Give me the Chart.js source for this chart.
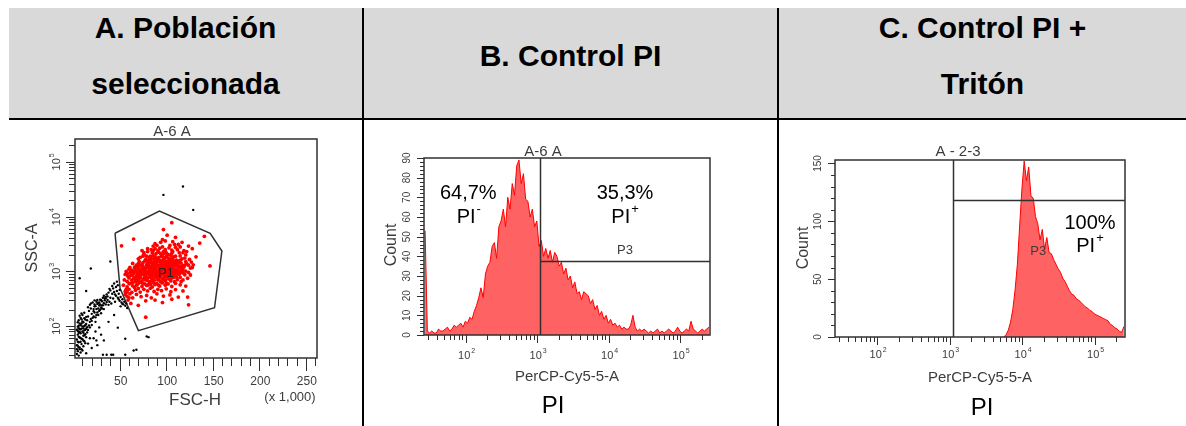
<!DOCTYPE html>
<html>
<head>
<meta charset="utf-8">
<script src="https://cdn.jsdelivr.net/npm/chart.js@4.4.1/dist/chart.umd.min.js"></script>
<style>
  body { margin: 0; width: 1186px; height: 426px; background: #fff; position: relative; overflow: hidden;
         font-family: "Liberation Sans", Arial, Helvetica, sans-serif; }
  .hdr { position: absolute; left: 9px; top: 8px; width: 1177px; height: 110px; background: #d9d9d9; }
  .hline { position: absolute; left: 9px; top: 118px; width: 1177px; height: 2px; background: #000; z-index: 3; }
  .vline { position: absolute; top: 8px; width: 2px; height: 418px; background: #000; z-index: 3; }
  .htxt { position: absolute; text-align: center; font-weight: bold; font-size: 30px; line-height: 56px; color: #000; }
  .cell { position: absolute; top: 120px; height: 306px; }
  .pi { position: absolute; font-size: 24px; line-height: 24px; color: #000; text-align: center; width: 100px; }
</style>
</head>
<body>
<div class="hdr"></div>
<div class="htxt" style="left:9px;width:353px;top:0">A. Población<br>seleccionada</div>
<div class="htxt" style="left:364px;width:413px;top:28px">B. Control PI</div>
<div class="htxt" style="left:779px;width:407px;top:0">C. Control PI +<br>Tritón</div>
<div class="hline"></div>
<div class="vline" style="left:362px"></div>
<div class="vline" style="left:777px"></div>

<div class="cell" style="left:0;width:362px"><canvas id="chartA" width="362" height="306"></canvas></div>
<div class="cell" style="left:364px;width:413px"><canvas id="chartB" width="413" height="306"></canvas></div>
<div class="cell" style="left:779px;width:407px"><canvas id="chartC" width="407" height="306"></canvas></div>

<div class="pi" style="left:503px;top:393px">PI</div>
<div class="pi" style="left:932px;top:395px">PI</div>

<script>
// ---- data ----
// panel A: FSC-H (x 1,000) vs SSC-A, events outside the gate (black) and inside P1 (red)
const blackEvents = [
  [4,31],[5,44],[6,29],[4,57],[7,38],[5,70],[8,33],[6,51],[9,47],[4,86],[7,62],[10,36],[5,98],[8,74],
  [11,55],[6,41],[9,90],[12,68],[7,112],[10,80],[13,49],[5,35],[8,104],[11,92],[14,63],[6,128],[9,59],
  [12,101],[15,77],[7,88],[10,122],[13,86],[4,45],[8,142],[11,67],[14,110],[6,76],[9,134],[12,53],
  [15,96],[5,118],[10,99],[13,132],[7,155],[11,118],[16,85],[8,61],[14,148],[9,170],[12,140],[6,102],
  [17,103],[10,160],[13,71],[15,128],[7,41],[16,150],[11,43],[18,120],[12,176],[5,52],[6,64],[4,38],
  [8,52],[9,38],[7,78],[5,82],[10,58],[6,92],[8,88],[11,76],[9,112],[13,104],[12,84],[14,90],
  [17,190],[19,135],[16,222],[20,168],[18,245],[21,142],[22,205],[19,260],[23,178],[20,125],[24,232],
  [21,270],[25,160],[22,188],[26,255],[23,296],[24,145],[27,210],[25,280],[28,238],[26,178],[29,305],
  [27,265],[30,220],[28,190],[31,285],[29,248],[32,330],[30,172],[33,262],[31,210],[34,298],[32,240],
  [35,340],[33,205],[36,275],[34,320],[19,210],[22,150],[25,205],[28,270],[31,240],[24,120],[27,160],
  [30,300],[33,360],[20,105],[23,230],[26,300],[29,200],[35,250],[37,300],[36,380],[38,245],[18,95],
  [37,350],[39,280],[38,410],[40,330],[41,260],[42,390],[40,450],[43,320],[44,420],[45,280],[46,360],
  [43,490],[47,440],[48,330],[46,520],[49,390],[50,290],[48,560],[51,340],[52,270],[53,310],[50,460],
  [54,250],[55,280],[56,235],[57,260],[58,215],[44,600],[47,650],[42,540],[39,480],[45,380],[51,230],
  [53,255],[49,310],
  [22,60],[26,45],[30,70],[24,80],[33,55],[28,95],[36,30],[43,30],[56,30],[68,37],[81,63],[56,59],
  [65,36],[79,65],[32,30],[41,30],[48,94],[35,325],[23,250],[14,440],[7,750],[19,1130],[40,1520],
  [97,25000],[118,35600],[129,13300],[18,60],[20,40],[25,55],[38,120],[44,160],[16,48],[14,32]
];
const redEvents = [
  [62,260],[70,240],[78,290],[88,300],[96,270],[106,310],[124,245],
  [58,350],[64,330],[68,380],[73,345],[79,365],[84,330],[90,390],[97,355],[104,372],[113,340],
  [56,430],[60,470],[63,415],[67,455],[70,490],[72,420],[76,470],[80,440],[83,495],[87,430],[91,470],
  [95,445],[100,480],[105,425],[110,465],[118,440],
  [54,560],[58,520],[61,600],[64,545],[66,510],[69,580],[71,620],[74,530],[77,590],[79,555],[82,610],
  [85,520],[88,575],[90,600],[93,540],[96,615],[99,560],[102,590],[106,530],[110,605],[115,570],[121,540],
  [55,700],[58,660],[60,760],[63,690],[65,740],[67,650],[70,720],[72,790],[74,670],[76,750],[78,700],
  [81,780],[83,660],[85,730],[87,690],[89,770],[92,710],[94,650],[97,760],[99,690],[102,740],[105,670],
  [108,780],[112,710],[116,650],[123,750],
  [56,880],[59,820],[61,950],[64,860],[66,990],[68,830],[70,920],[72,870],[75,970],[77,810],[79,900],
  [81,960],[83,850],[85,930],[87,990],[89,880],[91,820],[93,950],[95,900],[98,840],[100,980],[102,870],
  [105,930],[108,820],[111,960],[114,890],[118,940],[126,860],
  [60,1100],[63,1050],[66,1200],[68,1010],[70,1150],[73,1080],[75,1230],[77,1040],[80,1170],[82,1110],
  [84,1250],[86,1020],[88,1140],[90,1210],[92,1060],[95,1180],[97,1100],[99,1240],[102,1030],[104,1160],
  [107,1220],[110,1070],[113,1190],[117,1120],[121,1010],[128,1180],
  [64,1400],[68,1300],[71,1500],[74,1350],[77,1550],[79,1280],[82,1450],[85,1380],[87,1560],[90,1320],
  [93,1480],[95,1410],[98,1290],[100,1530],[103,1370],[106,1470],[109,1330],[112,1560],[116,1420],
  [120,1300],[127,1480],
  [70,1700],[75,1900],[78,1650],[82,1800],[86,1950],[89,1720],[92,1620],[95,1880],[98,1760],[101,1980],
  [104,1680],[108,1840],[111,1600],[115,1920],[120,1750],[132,1850],
  [76,2200],[84,2500],[89,2100],[93,2650],[97,2300],[102,2050],[106,2450],[110,2750],[114,2200],
  [119,2400],[128,2600],
  [88,3200],[96,3800],[104,3000],[110,4200],[117,3400],[124,2900],[101,4600],
  [97,5800],[106,7770],[141,4370],[147,1260],[123,340],[78,146],[52,2930],[65,3900],[136,3300],
  [66,760],[69,900],[71,1020],[73,640],[74,880],[76,1100],[78,820],[79,1330],[80,680],[81,1010],
  [82,890],[83,1200],[84,760],[85,1060],[86,640],[86,1400],[87,920],[88,1250],[89,800],[90,1060],
  [90,1500],[91,700],[92,940],[93,1160],[94,840],[94,1340],[95,1020],[96,730],[97,1200],[98,930],
  [99,1420],[100,800],[101,1090],[102,1300],[103,960],[104,720],[105,1180],[106,1020],[107,860],
  [108,1380],[109,1000],[110,1250],[111,790],[112,1080],[113,1450],[114,960],[116,1230],[118,1060],
  [120,870],[122,1380],[68,560],[70,680],[72,760],[75,600],[77,720],[80,560],[83,580],[85,840],
  [87,610],[89,940],[92,560],[95,640],[98,700],[100,620],[103,840],[106,760],[109,650],[112,900],
  [115,780],[118,700],[64,620],[62,840],[65,930],[67,1080],[69,1240],[72,1300],[75,1440],[78,1160],
  [81,1600],[84,1480],[87,1750],[91,1650],[94,1580],[97,1680],[100,1850],[103,1620],[106,1700],
  [109,1500],[112,1350],[115,1600],[118,1280],[121,1500],[124,1300],[124,960],[126,1150],[129,1320],
  [60,600],[58,900],[57,1000],[61,1180],[56,380],[58,420],[60,330],[57,470],[61,390],[59,300],
  [67,720],[71,830],[73,990],[76,880],[79,760],[82,980],[84,1120],[86,820],[88,1020],[91,900],
  [93,780],[96,1120],[99,1010],[101,880],[104,1050],[107,950],[110,880],[113,1020],[116,980],[78,1000],
  [81,1300],[84,940],[87,1150],[90,960],[93,1300],[96,1480],[99,1150],[102,1170],[105,1320],[108,1100],
  [70,1380],[74,1200],[77,900],[80,1450],[83,1650],[86,1250],[89,1400],[92,1800],[95,1300],[98,1580],
  [101,1400],[104,1500],[107,1650],[110,1400],[113,1280],[116,1100],[119,1200],[63,980],[66,1150],[69,800],
  [72,1800],[76,2050],[80,2300],[83,1900],[85,2200],[88,2600],[91,2400],[94,2100],[96,2800],[99,2500],
  [100,2200],[103,2700],[105,1950],[107,2300],[109,3100],[112,2500],[115,2800],[118,2200],[121,2000],
  [90,3000],[94,3400],[99,3600],[107,3500],[113,3100],[80,2600],[86,2900],[74,2400],[102,1750],[96,1950],
  [84,1700],[79,1900],[117,1700],[122,2300],[125,1650],[92,2250],[88,1850],[106,2150],[110,1900],
  [98,2150],[86,2400]
];
// P1 gate vertices (FSC-H x1000, SSC-A)
const gateP1 = [[45,4970],[92.7,12700],[147.2,4970],[159.8,2360],[151.9,217],[70.1,83],[50.4,492],[45,4970]];

// panels B and C: PerCP-Cy5-5-A histograms, 128 log bins over 26.2144 .. 262144
const logRange = [26.2144, 262144];
const countsB = [
  53, 2,1,2,1,1,3,2,2,3,4,2,3,5,4, 5,6,4,7, 6,9,8,12,15,19, 24,19,31,35, 37,45,47,39,55,58,
  64,55,70,64,77,71,86,89, 77,82,69,68,60,64,55,58, 45,48,40,44,39,43,37,42, 40,35,37,31,34,28,30,24,
  27,21,22,18,22,21,20,16, 18,13,15,10,12,8,10,6, 8,5,6,4,5,3,4,3, 3,5,10,4,2,3,2,3,
  2,1,2,1,2,3,1,2,1,2,3,2,1,2,4,2,1,2,3,2,7,3,2,1,2,3,2,3,4
];
const firstBinC = 74;   // bins before this one are empty
const countsC = [
  0,2,6,13,24,41,63,96,128,152,135,147,122,120,104,98,84,93,76,86,73,72,67,63,59,56,51,48,44,40,
  37,36,33,32,30,28,26,25,23,22,20,19,18,17,16,15,14,11,10,8,7,5,4,9
];
const binTotal = 128;

// gates
const gateB = { x: 1099, y: 37.7 };
const gateC = { x: 1120, y: 118.5 };

// tick labels
const fscLabels = [50, 100, 150, 200, 250];
const decades = [10, 100, 1000, 10000, 100000];
const decadeLabels = { 100: '10^2', 1000: '10^3', 10000: '10^4', 100000: '10^5' };
const countLabelsB = [0, 10, 20, 30, 40, 50, 60, 70, 80, 90];
const countLabelsC = [0, 50, 100, 150];

// ---- drawing helpers ----
const FONT = '"Liberation Sans", Arial, Helvetica, sans-serif';
const INK = '#3c3c3c';
const LINE = '#303030';

function drawLabel(ctx, txt, x, y, size, rot, color) {
  const [base, exp] = String(txt).split('^');
  const es = Math.round(size * 0.66);
  ctx.save();
  ctx.translate(x, y);
  if (rot) ctx.rotate(-Math.PI / 2);
  ctx.fillStyle = color || INK;
  ctx.textBaseline = 'middle';
  ctx.textAlign = 'left';
  ctx.font = size + 'px ' + FONT;
  const wb = ctx.measureText(base).width;
  ctx.font = es + 'px ' + FONT;
  const we = exp ? ctx.measureText(exp).width + 1 : 0;
  const x0 = -(wb + we) / 2;
  ctx.font = size + 'px ' + FONT;
  ctx.fillText(base, x0, 0);
  if (exp) {
    ctx.font = es + 'px ' + FONT;
    ctx.fillText(exp, x0 + wb + 1, -size * 0.42);
  }
  ctx.restore();
}

function logTicks(majorLen, minorLen) {
  const out = [];
  decades.forEach(d => {
    for (let k = 1; k <= 9; k++) {
      const v = d * k;
      if (v < logRange[0] || v > logRange[1]) continue;
      const label = k === 1 ? decadeLabels[d] : null;
      out.push({ v, len: label ? majorLen : minorLen, label });
    }
  });
  return out;
}

function linTicks(from, to, step, labels, majorLen, minorLen) {
  const out = [];
  for (let v = from; v <= to; v += step) {
    const lab = labels.includes(v);
    out.push({ v, len: lab ? majorLen : minorLen, label: lab ? String(v) : null });
  }
  return out;
}

function histPoints(counts, offset) {
  const lo = Math.log10(logRange[0]), hi = Math.log10(logRange[1]);
  const w = (hi - lo) / binTotal;
  return counts.map((c, i) => ({ x: Math.pow(10, lo + (offset + i + 0.5) * w), y: c }));
}

const facsPlot = {
  id: 'facsPlot',
  afterDatasetsDraw(chart, args, o) {
    const { ctx, chartArea: a, scales } = chart;
    const sx = scales.x, sy = scales.y;
    ctx.save();
    ctx.strokeStyle = LINE;
    if (o.gate) {
      const gx = Math.round(sx.getPixelForValue(o.gate.x)) + 0.5;
      const gy = Math.round(sy.getPixelForValue(o.gate.y)) + 0.5;
      ctx.lineWidth = 1.5;
      ctx.beginPath();
      ctx.moveTo(gx, a.top); ctx.lineTo(gx, a.bottom);
      ctx.moveTo(gx, gy); ctx.lineTo(a.right, gy);
      ctx.stroke();
    }
    ctx.lineWidth = 1.5;
    ctx.strokeRect(a.left, a.top, a.right - a.left, a.bottom - a.top);
    ctx.lineWidth = 1;
    ctx.beginPath();
    o.xTicks.forEach(t => {
      const p = Math.round(sx.getPixelForValue(t.v)) + 0.5;
      ctx.moveTo(p, a.bottom); ctx.lineTo(p, a.bottom + t.len);
    });
    o.yTicks.forEach(t => {
      const p = Math.round(sy.getPixelForValue(t.v)) + 0.5;
      ctx.moveTo(a.left, p); ctx.lineTo(a.left - t.len, p);
    });
    ctx.stroke();
    o.xTicks.filter(t => t.label).forEach(t =>
      drawLabel(ctx, t.label, sx.getPixelForValue(t.v) + 1, a.bottom + o.xGap, o.xSize, false));
    o.yTicks.filter(t => t.label).forEach(t =>
      drawLabel(ctx, t.label, a.left - o.yGap, sy.getPixelForValue(t.v), o.ySize, true));
    (o.texts || []).forEach(t => drawLabel(ctx, t.t, t.x, t.y, t.size, t.rot, t.color));
    (o.notes || []).forEach(t =>
      drawLabel(ctx, t.t, sx.getPixelForValue(t.x), sy.getPixelForValue(t.y), t.size, false, t.color));
    ctx.restore();
  }
};

const baseOptions = (padding, scales, facs) => ({
  responsive: false,
  animation: false,
  events: [],
  layout: { padding },
  plugins: { legend: { display: false }, tooltip: { enabled: false }, facsPlot: facs },
  scales
});

// ---- panel A ----
new Chart(document.getElementById('chartA'), {
  type: 'scatter',
  data: {
    datasets: [
      { data: blackEvents.map(([x, y]) => ({ x, y })), pointRadius: 1.2, pointBackgroundColor: '#000', pointBorderWidth: 0 },
      { data: redEvents.map(([x, y]) => ({ x, y })), pointRadius: 1.9, pointBackgroundColor: '#ff0000', pointBorderWidth: 0 },
      { data: gateP1.map(([x, y]) => ({ x, y })), showLine: true, borderColor: LINE, borderWidth: 1.5, pointRadius: 0, fill: false }
    ]
  },
  options: baseOptions(
    { left: 75, top: 19, right: 45, bottom: 68 },
    { x: { type: 'linear', display: false, min: 2, max: 262 },
      y: { type: 'logarithmic', display: false, min: logRange[0], max: logRange[1] } },
    {
      xTicks: linTicks(10, 260, 10, fscLabels, 13, 8),
      yTicks: logTicks(9, 6),
      xGap: 24, yGap: 18, xSize: 12, ySize: 11,
      texts: [
        { t: 'A-6 A', x: 172, y: 12, size: 15 },
        { t: 'SSC-A', x: 33, y: 128, size: 16, rot: true },
        { t: 'FSC-H', x: 195, y: 280, size: 17 },
        { t: '(x 1,000)', x: 290, y: 277, size: 13 }
      ],
      notes: [{ t: 'P1', x: 99.6, y: 923, size: 13, color: '#222' }]
    }),
  plugins: [facsPlot]
});

// ---- panel B ----
new Chart(document.getElementById('chartB'), {
  type: 'line',
  data: {
    datasets: [{
      data: histPoints(countsB, 0), borderColor: '#ff0000', borderWidth: 1, backgroundColor: '#ff6262',
      fill: 'origin', pointRadius: 0, tension: 0
    }]
  },
  options: baseOptions(
    { left: 60, top: 38, right: 67, bottom: 91 },
    { x: { type: 'logarithmic', display: false, min: logRange[0], max: logRange[1] },
      y: { type: 'linear', display: false, min: 0, max: 90 } },
    {
      gate: gateB,
      xTicks: logTicks(8, 5),
      yTicks: linTicks(0, 90, 2, countLabelsB, 7, 4),
      xGap: 21, yGap: 17, xSize: 11, ySize: 10,
      texts: [
        { t: 'A-6 A', x: 179, y: 31.5, size: 15 },
        { t: 'Count', x: 28, y: 125, size: 16, rot: true },
        { t: 'PerCP-Cy5-5-A', x: 203, y: 256.5, size: 15 }
      ],
      notes: [
        { t: '64,7%', x: 109, y: 72, size: 20, color: '#000' },
        { t: 'PI^-', x: 111, y: 59.5, size: 20, color: '#000' },
        { t: '35,3%', x: 17000, y: 72, size: 20, color: '#000' },
        { t: 'PI^+', x: 17000, y: 59.5, size: 20, color: '#000' },
        { t: 'P3', x: 17000, y: 43, size: 13 }
      ]
    }),
  plugins: [facsPlot]
});

// ---- panel C ----
new Chart(document.getElementById('chartC'), {
  type: 'line',
  data: {
    datasets: [{
      data: histPoints(countsC, firstBinC), borderColor: '#ff0000', borderWidth: 1, backgroundColor: '#ff6262',
      fill: 'origin', pointRadius: 0, tension: 0
    }]
  },
  options: baseOptions(
    { left: 56, top: 40, right: 61, bottom: 89 },
    { x: { type: 'logarithmic', display: false, min: logRange[0], max: logRange[1] },
      y: { type: 'linear', display: false, min: 0, max: 153 } },
    {
      gate: gateC,
      xTicks: logTicks(8, 5),
      yTicks: linTicks(0, 150, 10, countLabelsC, 7, 4),
      xGap: 18, yGap: 17, xSize: 11, ySize: 10,
      texts: [
        { t: 'A - 2-3', x: 179, y: 31.5, size: 15 },
        { t: 'Count', x: 24.5, y: 128, size: 16, rot: true },
        { t: 'PerCP-Cy5-5-A', x: 201, y: 258, size: 15 }
      ],
      notes: [
        { t: '100%', x: 86300, y: 98, size: 20, color: '#000' },
        { t: 'PI^+', x: 86300, y: 78, size: 20, color: '#000' },
        { t: 'P3', x: 16700, y: 74, size: 13 }
      ]
    }),
  plugins: [facsPlot]
});
</script>
</body>
</html>
